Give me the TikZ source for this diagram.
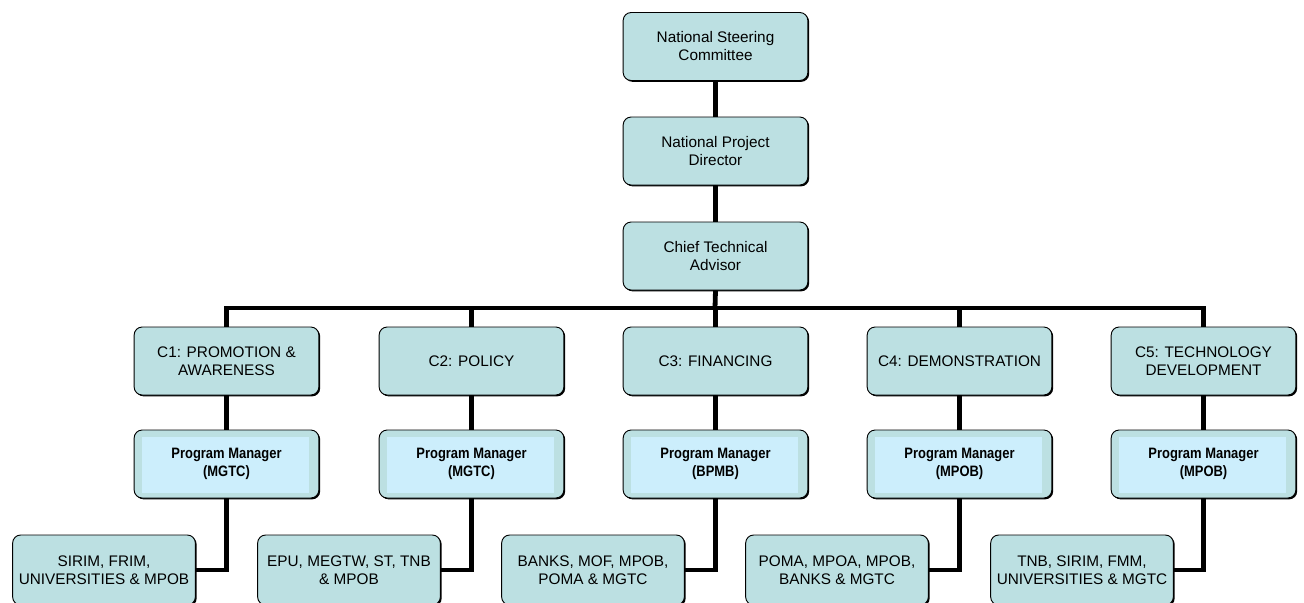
\documentclass[tikz,border=0pt]{standalone}
\usepackage{fontspec}
\setmainfont{Liberation Sans}
\newfontfamily\pmfont[FakeStretch=0.86]{Liberation Sans}
\usetikzlibrary{shadows}
\definecolor{boxc}{HTML}{BCE0E2}
\definecolor{pmc}{HTML}{CCEEFC}
\tikzset{
  box/.style={draw=black, line width=0.7pt, fill=boxc, rounded corners=6pt,
    minimum width=138.5pt, minimum height=51pt, inner sep=1pt, align=center,
    font=\fontsize{11.5pt}{13.5pt}\selectfont,
    drop shadow={shadow xshift=1pt, shadow yshift=-1pt, fill=black, opacity=1}},
  pmbox/.style={box, font=\pmfont\bfseries\fontsize{11.3pt}{13pt}\selectfont,
    path picture={\fill[pmc, sharp corners] ([xshift=5.5pt,yshift=-5.5pt]path picture bounding box.north west)
      rectangle ([xshift=-7.5pt,yshift=4pt]path picture bounding box.south east);}},
  botbox/.style={box, minimum width=137pt, minimum height=52.5pt},
  conn/.style={line width=3.6pt}
}
\begin{document}
\begin{tikzpicture}[x=0.75pt,y=-0.75pt]
\useasboundingbox (0,0) rectangle (1304,603);
\clip (0,0) rectangle (1304,603);
\coordinate (bus) at (715,308);

\node[box] (nsc) at (715.5,46.5) {National Steering\\Committee};
\node[box] (npd) at (715.5,151) {National Project\\Director};
\node[box] (cta) at (715.5,256) {Chief Technical\\Advisor};

\node[box] (c1) at (226.5,361) {C1: PROMOTION \&\\AWARENESS};
\node[box] (c2) at (471.5,361) {C2: POLICY};
\node[box] (c3) at (715.5,361) {C3: FINANCING};
\node[box] (c4) at (959.5,361) {C4: DEMONSTRATION};
\node[box] (c5) at (1203.5,361) {C5: TECHNOLOGY\\DEVELOPMENT};

\node[pmbox] (p1) at (226.5,464) {Program Manager\\(MGTC)};
\node[pmbox] (p2) at (471.5,464) {Program Manager\\(MGTC)};
\node[pmbox] (p3) at (715.5,464) {Program Manager\\(BPMB)};
\node[pmbox] (p4) at (959.5,464) {Program Manager\\(MPOB)};
\node[pmbox] (p5) at (1203.5,464) {Program Manager\\(MPOB)};

\node[botbox] (b1) at (104,570) {SIRIM, FRIM,\\UNIVERSITIES \& MPOB};
\node[botbox] (b2) at (349,570) {EPU, MEGTW, ST, TNB\\\& MPOB};
\node[botbox] (b3) at (593,570) {BANKS, MOF, MPOB,\\POMA \& MGTC};
\node[botbox] (b4) at (837,570) {POMA, MPOA, MPOB,\\BANKS \& MGTC};
\node[botbox] (b5) at (1082,570) {TNB, SIRIM, FMM,\\UNIVERSITIES \& MGTC};

\draw[conn] (nsc.south) -- (npd.north);
\draw[conn] (npd.south) -- (cta.north);
\draw[conn] (cta.south) -- (bus);
\draw[conn] (c1.north) -- (c1.north |- bus) -- (c5.north |- bus) -- (c5.north);
\foreach \i in {2,3,4} {\draw[conn] (c\i.north |- bus) -- (c\i.north);}
\foreach \i in {1,...,5} {
  \draw[conn] (c\i.south) -- (p\i.north);
  \draw[conn] (p\i.south) |- (b\i.east);
}
\end{tikzpicture}
\end{document}
